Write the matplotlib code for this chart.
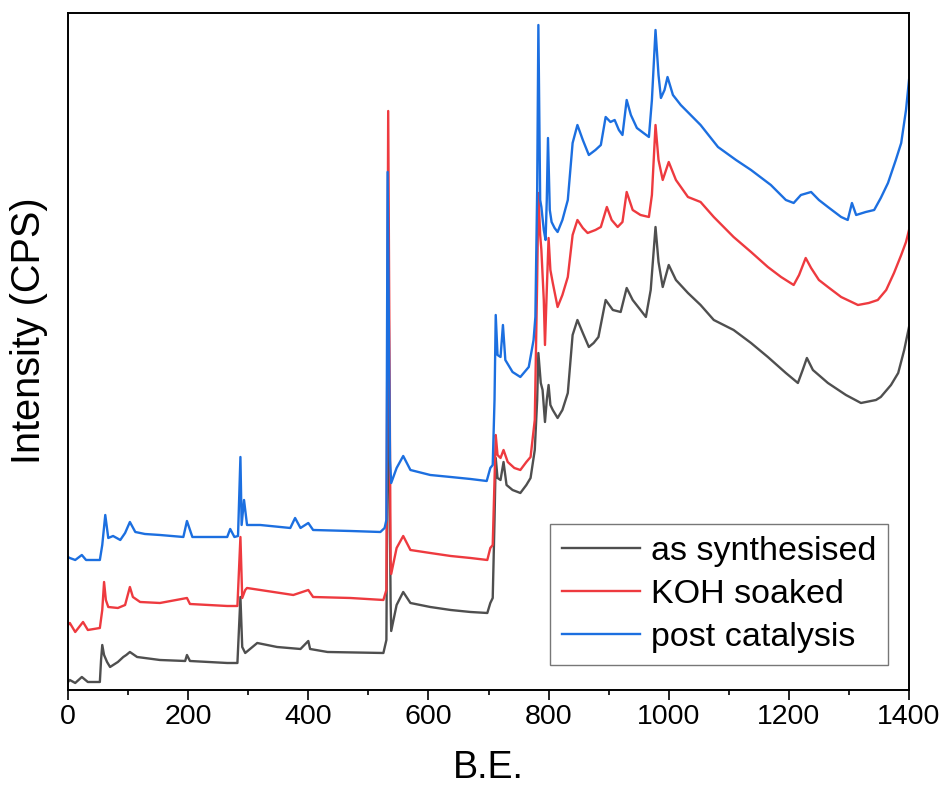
import matplotlib
matplotlib.use("Agg")
import matplotlib.pyplot as plt
from matplotlib.ticker import MultipleLocator, NullLocator

# survey spectra, binding energy (eV) vs counts (arb. units, stacked)
be_as = [0, 3, 12, 23, 33, 53, 55, 57, 60, 65, 70, 83, 92, 97, 103, 115, 153,
         195, 198, 203, 265, 282, 287, 290, 295, 315, 348, 387, 400, 403, 432,
         525, 530, 533, 537, 538, 547, 558, 570, 603, 637, 670, 698, 703, 707,
         710, 712, 715, 720, 725, 730, 740, 753, 763, 770, 777, 781, 783, 787,
         790, 794, 797, 800, 803, 807, 815, 823, 832, 840, 848, 857, 867, 875,
         883, 895, 907, 920, 930, 940, 953, 962, 970, 978, 983, 990, 1000, 1012,
         1032, 1053, 1075, 1108, 1137, 1165, 1195, 1215, 1223, 1230, 1240, 1265,
         1295, 1320, 1345, 1353, 1370, 1382, 1392, 1400]
cps_as = [8, 10, 7, 13, 8, 8, 30, 45, 35, 28, 23, 28, 33, 35, 38, 33, 30,
          29, 35, 29, 27, 27, 93, 43, 37, 47, 43, 41, 49, 41, 38,
          37, 50, 360, 90, 59, 85, 98, 87, 83, 80, 78, 77, 87, 92,
          170, 232, 212, 210, 228, 205, 200, 197, 205, 212, 240, 290, 337, 307,
          300, 268, 290, 305, 285, 280, 272, 280, 297, 355, 370, 357, 343, 347,
          353, 390, 380, 378, 402, 390, 380, 373, 400, 463, 428, 403, 425, 410,
          397, 385, 370, 360, 347, 333, 317, 307, 320, 332, 320, 307,
          295, 287, 290, 293, 305, 317, 340, 363]

be_koh = [0, 3, 12, 25, 33, 53, 57, 60, 63, 67, 83, 95, 103, 108, 120, 153,
          198, 203, 265, 282, 287, 290, 295, 298, 320, 375, 400, 408, 470, 525,
          530, 533, 537, 538, 547, 558, 570, 603, 637, 670, 698, 703, 707, 710,
          712, 715, 720, 725, 732, 743, 753, 763, 770, 777, 781, 783, 786, 788,
          792, 794, 797, 800, 803, 807, 815, 823, 832, 840, 848, 857, 865, 878,
          887, 897, 905, 915, 923, 930, 940, 953, 967, 972, 978, 983, 990, 1000,
          1012, 1032, 1053, 1075, 1108, 1137, 1165, 1187, 1208, 1217, 1228, 1237,
          1250, 1265, 1287, 1315, 1333, 1348, 1362, 1375, 1387, 1395, 1400]
cps_koh = [65, 67, 58, 68, 60, 62, 80, 108, 90, 83, 82, 85, 103, 93, 88, 87,
           92, 86, 84, 84, 153, 92, 100, 102, 100, 95, 100, 93, 92, 90,
           100, 579, 130, 116, 142, 154, 140, 137, 134, 132, 130, 142, 145, 210,
           255, 235, 232, 240, 228, 222, 220, 228, 233, 270, 410, 497, 455, 440,
           390, 345, 400, 452, 420, 407, 383, 395, 413, 455, 470, 462, 457, 460,
           463, 483, 470, 463, 468, 498, 480, 475, 473, 495, 565, 530, 510, 528,
           510, 493, 488, 473, 453, 438, 423, 413, 405, 415, 432, 422,
           410, 403, 393, 385, 387, 390, 400, 417, 435, 448, 460]

be_post = [0, 3, 12, 23, 30, 53, 57, 62, 67, 75, 87, 95, 103, 112, 128, 153,
           192, 198, 207, 265, 270, 277, 283, 287, 289, 293, 298, 320, 370, 378,
           387, 400, 408, 470, 520, 527, 530, 532, 536, 538, 547, 558, 570, 603,
           637, 670, 697, 703, 707, 710, 712, 715, 720, 724, 728, 740, 753, 767,
           775, 778, 781, 783, 786, 788, 792, 795, 797, 799, 802, 805, 810, 815,
           823, 832, 840, 848, 857, 867, 878, 887, 895, 903, 910, 917, 923, 930,
           937, 947, 958, 967, 972, 978, 983, 987, 993, 998, 1007, 1020, 1053,
           1082, 1112, 1137, 1170, 1195, 1208, 1220, 1237, 1250, 1265, 1287,
           1298, 1305, 1312, 1328, 1342, 1353, 1365, 1378, 1387, 1395, 1400]
cps_post = [133, 132, 130, 135, 130, 130, 145, 175, 152, 154, 150, 157, 168, 158, 156, 155,
            153, 169, 153, 153, 161, 153, 154, 233, 165, 190, 165, 165, 162, 172,
            162, 167, 160, 159, 158, 162, 170, 518, 230, 207, 222, 234, 220, 215,
            213, 211, 209, 222, 225, 290, 375, 335, 333, 365, 330, 318, 313, 323,
            350, 373, 500, 665, 490, 483, 460, 450, 490, 552, 480, 468, 462, 458,
            470, 490, 547, 565, 550, 535, 540, 545, 573, 568, 570, 560, 555, 590,
            575, 562, 557, 553, 590, 660, 615, 592, 600, 613, 595, 585, 565,
            543, 530, 520, 505, 490, 487, 495, 498, 490, 483, 473,
            470, 487, 475, 478, 480, 492, 507, 530, 547, 580, 610]

labels = ["as synthesised", "KOH soaked", "post catalysis"]
colors = ["#4f4f4f", "#ee3a3f", "#1c6fe0"]

plt.rcParams['font.family'] = ['Liberation Sans', 'DejaVu Sans']

fig = plt.figure(figsize=(9.46, 7.92), dpi=100)
ax = fig.add_axes([0.0719, 0.1288, 0.8890, 0.8548])

ax.plot(be_as, cps_as, color=colors[0], lw=1.7, label=labels[0])
ax.plot(be_koh, cps_koh, color=colors[1], lw=1.7, label=labels[1])
ax.plot(be_post, cps_post, color=colors[2], lw=1.7, label=labels[2])

ax.set_xlim(0, 1400)
ax.set_ylim(0, 677)

# x: major every 200, minor every 100, ticks pointing out; y: no ticks
ax.xaxis.set_major_locator(MultipleLocator(200))
ax.xaxis.set_minor_locator(MultipleLocator(100))
ax.yaxis.set_major_locator(NullLocator())
ax.tick_params(axis='x', which='major', direction='out', length=7, width=1.2,
               pad=3, labelsize=20.5)
ax.tick_params(axis='x', which='minor', direction='out', length=3.5, width=1.2)

for sp in ax.spines.values():
    sp.set_linewidth(1.4)

ax.set_xlabel("B.E.", fontsize=27)
ax.set_ylabel("Intensity (CPS)", fontsize=28.5)
ax.xaxis.set_label_coords(0.5, -0.088)
ax.yaxis.set_label_coords(-0.024, 0.53)

leg = ax.legend(loc='lower right', bbox_to_anchor=(0.975, 0.037), fontsize=24.5,
                frameon=True, fancybox=False, handlelength=2.3, handletextpad=0.3,
                borderpad=0.35, labelspacing=0.36, borderaxespad=0)
leg.get_frame().set_edgecolor('#555555')
leg.get_frame().set_linewidth(1.0)

fig.savefig("out.png", dpi=100)
